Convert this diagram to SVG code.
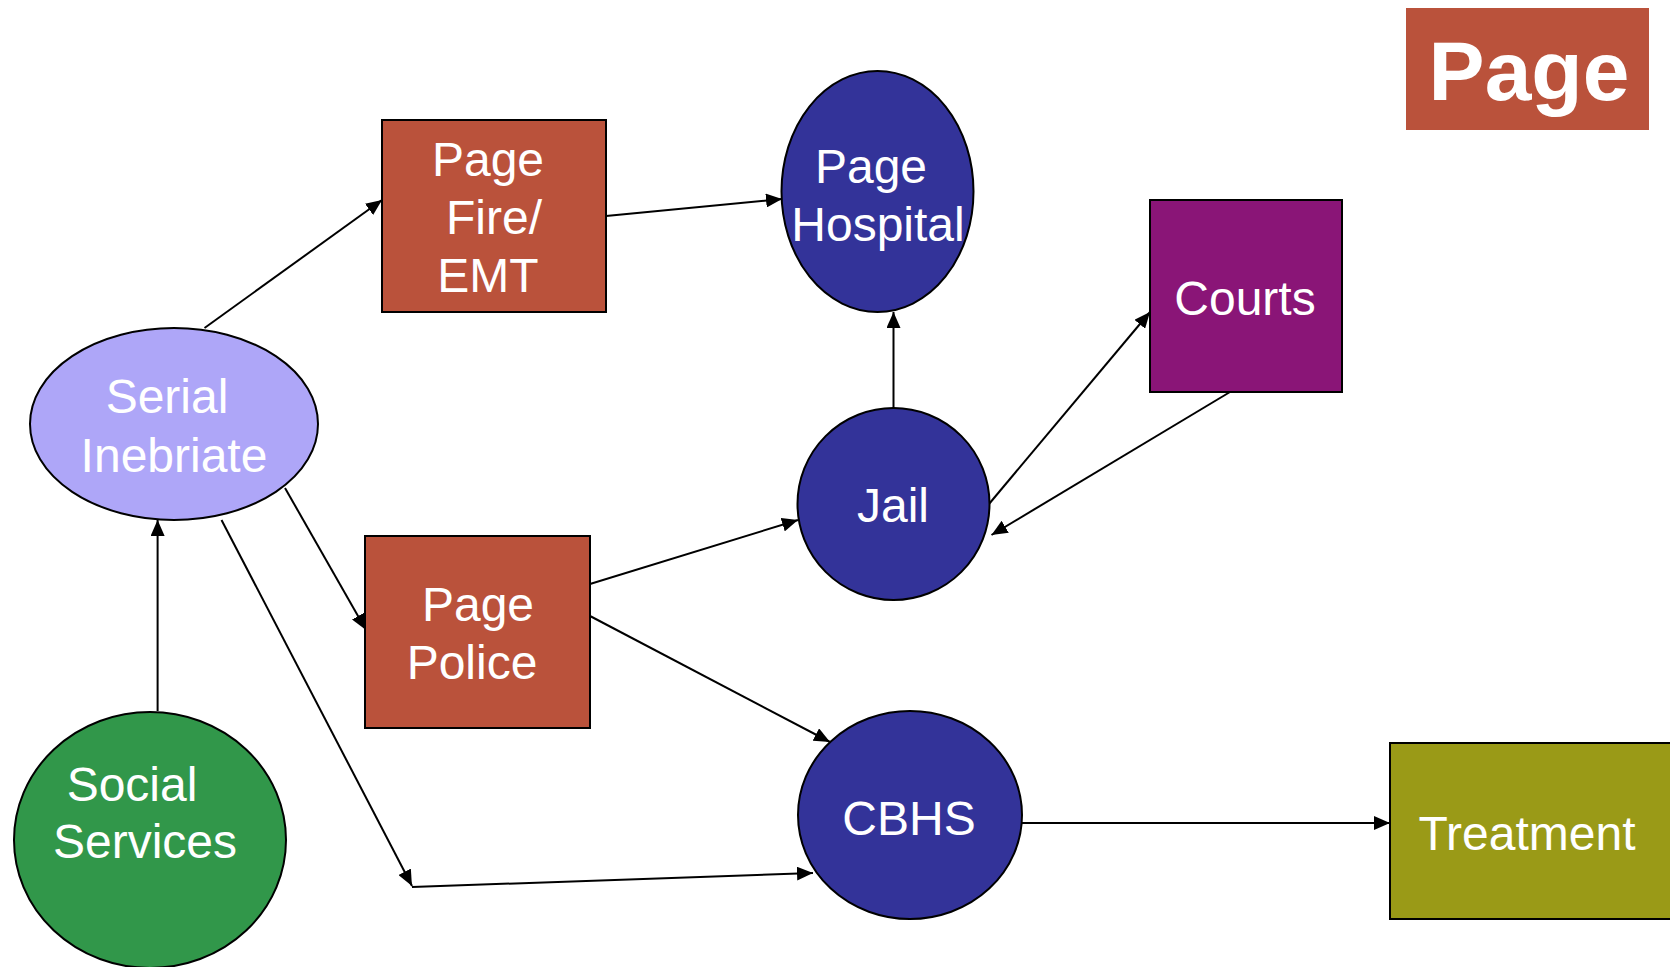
<svg xmlns="http://www.w3.org/2000/svg" width="1670" height="967" viewBox="0 0 1670 967">
<defs>
<marker id="arr" markerUnits="userSpaceOnUse" markerWidth="16" markerHeight="14" refX="16" refY="7" orient="auto">
<path d="M0,0 L16,7 L0,14 z" fill="#000"/>
</marker>
<style>
.n{stroke:#000;stroke-width:2}
.t{font-family:"Liberation Sans",Arial,sans-serif;font-size:48px;fill:#fff;text-anchor:middle}
.c{stroke:#000;stroke-width:2;fill:none;marker-end:url(#arr)}
</style>
</defs>
<rect width="1670" height="967" fill="#fff"/>
<g id="badge">
<rect x="1406" y="8" width="243" height="122" fill="#BA523B"/>
<text x="1529" y="100" style="font-family:'Liberation Sans',Arial,sans-serif;font-weight:bold;font-size:84px;fill:#fff;text-anchor:middle">Page</text>
</g>
<g id="connectors">
<line class="c" x1="204.5" y1="328" x2="382" y2="200"/>
<line class="c" x1="606" y1="216" x2="782" y2="199"/>
<line class="c" x1="285" y1="488" x2="366" y2="630"/>
<line class="c" x1="221.5" y1="520" x2="412" y2="886"/>
<line class="c" x1="412" y1="887" x2="813" y2="873"/>
<line class="c" x1="157.6" y1="711" x2="157.6" y2="520"/>
<line class="c" x1="590" y1="584" x2="798" y2="520"/>
<line class="c" x1="590" y1="616" x2="830" y2="742"/>
<line class="c" x1="893.5" y1="408" x2="893.5" y2="312"/>
<line class="c" x1="989" y1="504" x2="1150" y2="312"/>
<line class="c" x1="1230" y1="392" x2="991.5" y2="535"/>
<line class="c" x1="1021" y1="823" x2="1390" y2="823"/>
</g>
<g id="serial">
<ellipse class="n" cx="174" cy="424" rx="144" ry="96" fill="#AEA6F8"/>
<text class="t" x="167" y="413">Serial</text>
<text class="t" x="174" y="472">Inebriate</text>
</g>
<g id="fire">
<rect class="n" x="382" y="120" width="224" height="192" fill="#BA523B"/>
<text class="t" x="488" y="176">Page</text>
<text class="t" x="494" y="234">Fire/</text>
<text class="t" x="488" y="292">EMT</text>
</g>
<g id="hospital">
<ellipse class="n" cx="877.5" cy="191.5" rx="96" ry="120.5" fill="#333399"/>
<text class="t" x="871" y="183">Page</text>
<text class="t" x="878" y="241">Hospital</text>
</g>
<g id="police">
<rect class="n" x="365" y="536" width="225" height="192" fill="#BA523B"/>
<text class="t" x="478" y="621">Page</text>
<text class="t" x="472" y="679">Police</text>
</g>
<g id="social">
<ellipse class="n" cx="150" cy="840" rx="136" ry="128" fill="#31974A"/>
<text class="t" x="132" y="801">Social</text>
<text class="t" x="145" y="858">Services</text>
</g>
<g id="jail">
<ellipse class="n" cx="893.5" cy="504" rx="96" ry="96" fill="#333399"/>
<text class="t" x="893" y="522">Jail</text>
</g>
<g id="courts">
<rect class="n" x="1150" y="200" width="192" height="192" fill="#8A1577"/>
<text class="t" x="1245" y="315">Courts</text>
</g>
<g id="cbhs">
<ellipse class="n" cx="910" cy="815" rx="112" ry="104" fill="#333399"/>
<text class="t" x="909" y="835">CBHS</text>
</g>
<g id="treatment">
<rect class="n" x="1390" y="743" width="290" height="176" fill="#9A9A17"/>
<text class="t" x="1527" y="850">Treatment</text>
</g>
</svg>
